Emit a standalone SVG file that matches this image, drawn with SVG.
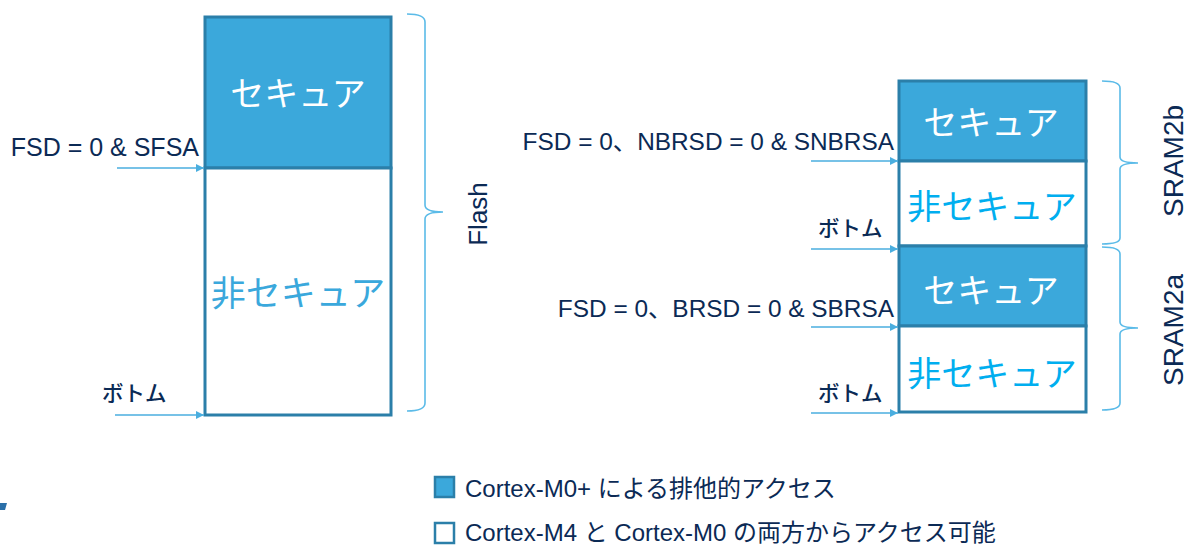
<svg xmlns="http://www.w3.org/2000/svg" width="1187" height="547" viewBox="0 0 1187 547">
<style>
.box{stroke:#2b7fa9;stroke-width:3}
.sec{fill:#3ba8db}
.nsec{fill:#ffffff}
.t{font-family:"Liberation Sans","Noto Sans CJK JP",sans-serif;fill:#0b2a55}
.jp{font-family:"Noto Sans CJK JP",sans-serif}
.wt{fill:#ffffff;font-size:34px;text-anchor:middle}
.bt{fill:#3aa8dc;font-size:35px;text-anchor:middle}
.bt2{fill:#00aeef;font-size:34px;text-anchor:middle}
.lbl{font-size:24.4px}
.btm{font-size:21.5px;font-weight:500}
.brace{fill:none;stroke:#5bbbe8;stroke-width:1.6}
.arr{stroke:#4aaedf;stroke-width:1.5;fill:none;marker-end:url(#ah)}
</style>
<defs>
<marker id="ah" markerWidth="8" markerHeight="8" refX="8" refY="4" orient="auto" markerUnits="userSpaceOnUse">
<path d="M0,0 L8,4 L0,8 Z" fill="#4aaedf"/>
</marker>
</defs>
<rect width="1187" height="547" fill="#ffffff"/>

<g id="flash">
<rect id="flash-secure" class="box sec" x="205" y="17" width="186" height="151"/>
<rect id="flash-nonsecure" class="box nsec" x="205" y="168" width="186" height="247"/>
<text class="jp wt" x="298" y="106">セキュア</text>
<text class="jp bt" x="298" y="306">非セキュア</text>
</g>

<g id="sram2b">
<rect class="box sec" x="899" y="81" width="187" height="80"/>
<rect class="box nsec" x="899" y="161" width="187" height="85"/>
<text class="jp wt" x="991" y="135">セキュア</text>
<text class="jp bt2" x="992" y="219">非セキュア</text>
</g>

<g id="sram2a">
<rect class="box sec" x="899" y="246" width="187" height="80"/>
<rect class="box nsec" x="899" y="326" width="187" height="86"/>
<text class="jp wt" x="991" y="303">セキュア</text>
<text class="jp bt2" x="992" y="386">非セキュア</text>
</g>

<g id="labels">
<text class="t" x="199" y="156" font-size="25" text-anchor="end">FSD = 0 &amp; SFSA</text>
<text class="t btm" x="102" y="401">ボトム</text>
<text class="t lbl" x="894" y="150" text-anchor="end">FSD = 0、NBRSD = 0 &amp; SNBRSA</text>
<text class="t btm" x="818" y="236">ボトム</text>
<text class="t lbl" x="894" y="317" text-anchor="end">FSD = 0、BRSD = 0 &amp; SBRSA</text>
<text class="t btm" x="818" y="401">ボトム</text>
<text class="t" font-size="26" transform="translate(487,214) rotate(-90)" text-anchor="middle">Flash</text>
<text class="t" font-size="28" transform="translate(1183,161) rotate(-90)" text-anchor="middle">SRAM2b</text>
<text class="t" font-size="28" transform="translate(1183,330) rotate(-90)" text-anchor="middle">SRAM2a</text>
</g>

<g id="connectors">
<line class="arr" x1="117" y1="168" x2="204" y2="168"/>
<line class="arr" x1="115" y1="415" x2="204" y2="415"/>
<line class="arr" x1="811" y1="161" x2="898" y2="161"/>
<line class="arr" x1="811" y1="249" x2="898" y2="249"/>
<line class="arr" x1="811" y1="327" x2="898" y2="327"/>
<line class="arr" x1="811" y1="413" x2="898" y2="413"/>
</g>

<g id="braces">
<path class="brace" d="M407,14 Q425,14 425,22 L425,205 Q425,212 443,212 Q425,212 425,219 L425,403 Q425,411 407,411"/>
<path class="brace" d="M1102,81 Q1120,81 1120,88 L1120,157 Q1120,163 1138,163 Q1120,163 1120,169 L1120,238 Q1120,244 1102,244"/>
<path class="brace" d="M1102,247 Q1120,247 1120,254 L1120,322 Q1120,328 1138,328 Q1120,328 1120,334 L1120,403 Q1120,410 1102,410"/>
</g>

<g id="legend">
<rect class="sec" x="435" y="477" width="19" height="20" stroke="#2b7fa9" stroke-width="2.5"/>
<text class="t" font-size="24" x="465" y="497">Cortex-M0+ による排他的アクセス</text>
<rect class="nsec" x="435" y="523" width="19" height="20" stroke="#2b7fa9" stroke-width="2.5"/>
<text class="t" font-size="24" x="465" y="541">Cortex-M4 と Cortex-M0 の両方からアクセス可能</text>
</g>

<polygon points="0,503 7,503 5,510 0,510" fill="#2a6fa8"/>
</svg>
